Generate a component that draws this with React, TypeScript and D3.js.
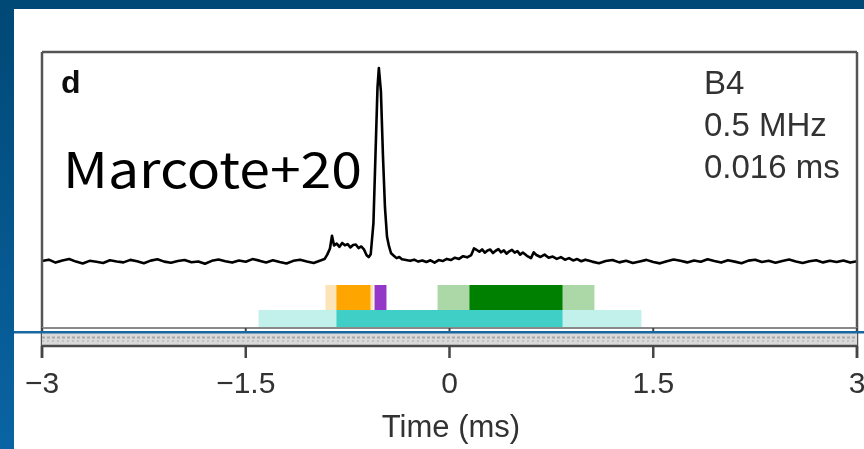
import React from "react";
import * as d3 from "d3";

// Time series (ms, arbitrary flux units)
const times = [
  -3.0, -2.95, -2.9, -2.85, -2.8, -2.75, -2.7, -2.65, -2.6, -2.55, -2.5, -2.45, -2.4, -2.35, -2.3, -2.25,
  -2.2, -2.15, -2.1, -2.05, -2.0, -1.95, -1.9, -1.85, -1.8, -1.75, -1.7, -1.65, -1.6, -1.55, -1.5, -1.45,
  -1.4, -1.35, -1.3, -1.25, -1.2, -1.15, -1.1, -1.05, -1.0, -0.95, -0.92, -0.9, -0.88, -0.865, -0.85, -0.83,
  -0.81, -0.79, -0.77, -0.75, -0.73, -0.71, -0.69, -0.67, -0.65, -0.63, -0.61, -0.595, -0.58, -0.56, -0.545,
  -0.53, -0.52, -0.505, -0.49, -0.475, -0.46, -0.445, -0.43, -0.41, -0.39, -0.37, -0.35, -0.32, -0.29, -0.26,
  -0.23, -0.2, -0.17, -0.14, -0.11, -0.08, -0.05, -0.02, 0.01, 0.04, 0.07, 0.1, 0.13, 0.16, 0.18, 0.2, 0.22,
  0.24, 0.26, 0.28, 0.3, 0.32, 0.34, 0.36, 0.38, 0.4, 0.42, 0.44, 0.46, 0.48, 0.5, 0.52, 0.54, 0.57, 0.6,
  0.62, 0.64, 0.67, 0.7, 0.73, 0.76, 0.79, 0.82, 0.85, 0.88, 0.91, 0.94, 0.97, 1.0, 1.05, 1.1, 1.15, 1.2,
  1.25, 1.3, 1.35, 1.4, 1.45, 1.5, 1.55, 1.6, 1.65, 1.7, 1.75, 1.8, 1.85, 1.9, 1.95, 2.0, 2.05, 2.1, 2.15,
  2.2, 2.25, 2.3, 2.35, 2.4, 2.45, 2.5, 2.55, 2.6, 2.65, 2.7, 2.75, 2.8, 2.85, 2.9, 2.95, 3.0,
];
const values = [
  0.5, 1.2, -0.3, 0.8, 1.5, 0.2, -0.8, 0.6, 0.1, -0.5, 0.9, 0.3, -0.2, 1.1, 0.4, -0.6,
  0.7, 1.4, 0.2, -0.4, 0.5, 1.0, -0.1, 0.3, -0.9, 0.6, 1.3, 0.4, -0.3, 0.8, 0.1, 1.5,
  0.7, -0.2, 0.9, 0.0, -0.8, 0.6, 1.2, 0.3, -0.5, 0.8, 1.5, 3.8, 7.0, 13.5, 8.5, 9.5,
  7.8, 9.8, 8.6, 9.2, 7.5, 8.8, 9.0, 7.2, 8.0, 6.5, 3.5, 2.5, 4.0, 20, 55,
  90, 100, 88, 55, 28, 13, 8, 4.5, 3.2, 2.0, 2.6, 1.4, 1.0, 0.6, 1.2,
  0.2, 0.8, 0.0, 0.9, -0.3, 1.0, 0.5, 1.6, 1.0, 2.2, 1.6, 3.0, 2.4, 3.6, 7.0, 6.2, 5.3,
  6.5, 4.8, 5.9, 6.4, 4.6, 5.8, 6.6, 5.0, 6.0, 4.3, 5.5, 6.3, 4.8, 5.6, 3.8, 4.9, 3.2, 2.0,
  5.0, 3.6, 2.6, 3.8, 2.2, 2.8, 1.6, 2.5, 1.2, 2.0, 0.8, 1.5, 0.4, 1.2, 0.2, -0.6, 0.5, 1.0,
  -0.2, 0.6, -0.5, 0.3, 1.1, 0.0, -0.7, 0.4, 1.3, 0.6, -0.2, 0.8, 0.1, 1.4, 0.5, -0.3, 0.9, 0.2, -0.6,
  0.7, 1.2, 0.0, 0.6, -0.4, 0.5, 1.3, 0.3, -0.5, 0.4, 0.9, -0.2, 0.6, 0.0, 0.8, -0.3, 0.4,
];

// Interval bars (ms)
const barStart = [-0.913, -0.832, -0.552, -0.088, 0.147, -1.406, -0.832];
const barEnd = [-0.56, -0.582, -0.464, 1.067, 0.832, 1.413, 0.832];
const barRow = ["upper", "upper", "upper", "upper", "upper", "lower", "lower"];
const barColor = ["#fde3b8", "#ffa500", "#9437c9", "#acd8a8", "#008000", "#c2f0ea", "#40cfc7"];

const tickValues = [-3, -1.5, 0, 1.5, 3];
const tickLabels = ["\u22123", "\u22121.5", "0", "1.5", "3"];
const infoLines = ["B4", "0.5 MHz", "0.016 ms"];

export default function App() {
  const W = 864;
  const H = 449;
  const left = 42;
  const right = 857;
  const top = 52;
  const bottom = 328;

  const x = d3.scaleLinear().domain([-3, 3]).range([left, right]);
  const y = d3.scaleLinear().domain([0, 100]).range([262, 68]);
  const rowY = d3.scaleOrdinal<string, number>().domain(["upper", "lower"]).range([285, 310]);
  const rowH = d3.scaleOrdinal<string, number>().domain(["upper", "lower"]).range([25, 18]);

  const line = d3
    .line<number>()
    .x((_, i) => x(times[i]))
    .y((d) => y(d));

  const font = "'Liberation Sans', Arial, Helvetica, sans-serif";
  const textCol = "#333";

  return (
    <svg
      width={W}
      height={H}
      style={{ position: "absolute", left: 0, top: 0, display: "block" }}
    >
      <defs>
        <linearGradient id="bg" x1="0" y1="0" x2="0" y2="1">
          <stop offset="0" stopColor="#004875" />
          <stop offset="1" stopColor="#0a64a3" />
        </linearGradient>
        <filter id="blur" x="-5%" y="-5%" width="110%" height="110%">
          <feGaussianBlur stdDeviation="0.55" />
        </filter>
      </defs>
      {/* slide background */}
      <rect x={0} y={0} width={W} height={H} fill="url(#bg)" />
      <rect x={14} y={9} width={W - 14} height={H - 9} fill="#ffffff" />

      <g filter="url(#blur)">
        {/* interval bars */}
        {barStart.map((s, i) => (
          <rect
            key={i}
            x={x(s)}
            y={rowY(barRow[i])}
            width={x(barEnd[i]) - x(s)}
            height={rowH(barRow[i])}
            fill={barColor[i]}
          />
        ))}

        {/* time series */}
        <path d={line(values) || ""} fill="none" stroke="#000" strokeWidth={2.6} strokeLinejoin="round" />

        {/* frame */}
        <line x1={left} x2={right} y1={top} y2={top} stroke="#555" strokeWidth={2.5} />
        <line x1={left} x2={left} y1={top} y2={358} stroke="#555" strokeWidth={2.5} />
        <line x1={right} x2={right} y1={top} y2={358} stroke="#555" strokeWidth={2.5} />
        <line x1={left} x2={right} y1={bottom} y2={bottom} stroke="#8a8a8a" strokeWidth={2} />

        {/* gray strip */}
        <rect x={left} y={333} width={right - left} height={12} fill="#d9d9d9" />
        <line x1={left} x2={right} y1={337.5} y2={337.5} stroke="#a8a8a8" strokeWidth={2} strokeDasharray="3 2" />
        <line x1={left} x2={right} y1={341} y2={341} stroke="#bbbbbb" strokeWidth={1.5} strokeDasharray="2 3" />
        <line x1={left} x2={right} y1={346} y2={346} stroke="#4a4a4a" strokeWidth={2.5} />

        {/* ticks */}
        {tickValues.map((t, i) => (
          <g key={i}>
            <line x1={x(t)} x2={x(t)} y1={346} y2={358} stroke="#444" strokeWidth={2.5} />
            <line x1={x(t)} x2={x(t)} y1={bottom} y2={332} stroke="#444" strokeWidth={2} />
            <text
              x={x(t)}
              y={393}
              textAnchor="middle"
              fontFamily={font}
              fontSize={30}
              fill={textCol}
            >
              {tickLabels[i]}
            </text>
          </g>
        ))}
        <text x={451} y={437} textAnchor="middle" fontFamily={font} fontSize={31} fill={textCol}>
          Time (ms)
        </text>

        {/* panel annotations */}
        <text x={61} y={93} fontFamily={font} fontSize={32} fontWeight="bold" fill="#111">
          d
        </text>
        {infoLines.map((s, i) => (
          <text key={i} x={704} y={94 + i * 42} fontFamily={font} fontSize={33} fill={textCol}>
            {s}
          </text>
        ))}
      </g>

      {/* overlaid slide label */}
      <text
        x={63}
        y={188}
        fontFamily="'Noto Sans CJK JP', 'Noto Sans', sans-serif"
        fontSize={49}
        textLength={299}
        lengthAdjust="spacingAndGlyphs"
        fill="#000"
      >
        Marcote+20
      </text>

      {/* slide horizontal rule */}
      <rect x={14} y={331} width={W - 14} height={2.5} fill="#1867a0" />
    </svg>
  );
}
